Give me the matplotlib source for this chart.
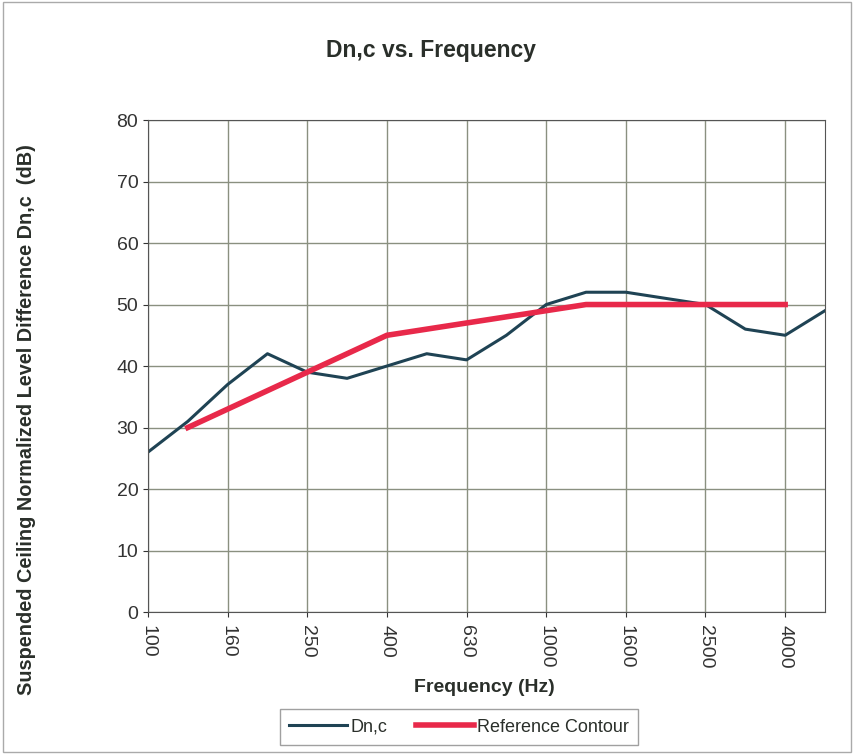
import matplotlib.pyplot as plt

plt.rcParams['font.family'] = ['Liberation Sans', 'DejaVu Sans']

# 1/3 octave bands (Hz)
bands = ['100', '125', '160', '200', '250', '315', '400', '500', '630', '800',
         '1000', '1250', '1600', '2000', '2500', '3150', '4000', '5000']
dnc = [26, 31, 37, 42, 39, 38, 40, 42, 41, 45, 50, 52, 52, 51, 50, 46, 45, 49]
# reference contour from 125 to 4000 Hz
ref_bands = bands[1:17]
ref = [30, 33, 36, 39, 42, 45, 46, 47, 48, 49, 50, 50, 50, 50, 50, 50]

x = list(range(len(bands)))
xr = [bands.index(b) for b in ref_bands]

fig = plt.figure(figsize=(8.54, 7.54), dpi=100)
ax = fig.add_axes([0.1733, 0.1883, 0.7927, 0.6525])

ax.plot(x, dnc, color='#1f4354', linewidth=2.2, label='Dn,c')
ax.plot(xr, ref, color='#e8294a', linewidth=4, label='Reference Contour')

ax.set_xlim(0, len(bands) - 1)
ax.set_ylim(0, 80)
ax.set_yticks(range(0, 81, 10))
ax.set_xticks(x[::2])
ax.set_xticklabels(bands[::2], rotation=270, fontsize=14)
ax.tick_params(axis='y', labelsize=14, colors='#333333')
ax.tick_params(axis='x', pad=6, colors='#333333')
ax.grid(True, color='#8a9080', linewidth=1)
ax.set_axisbelow(True)
for s in ax.spines.values():
    s.set_color('#555555')

# title, axis labels (placed in figure pixels)
fig.text(431 / 854, 1 - 50 / 754, 'Dn,c vs. Frequency', fontsize=16.5,
         fontweight='bold', ha='center', va='center', color='#2a2f2a')
fig.text(484 / 854, 1 - 688 / 754, 'Frequency (Hz)', fontsize=14,
         fontweight='bold', ha='center', va='center', color='#2a2f2a')
fig.text(27 / 854, 1 - 420 / 754,
         'Suspended Ceiling Normalized Level Difference Dn,c  (dB)',
         fontsize=14.3, fontweight='bold', rotation=90, ha='center', va='center',
         color='#2a2f2a')

h, l = ax.get_legend_handles_labels()
leg = fig.legend(h, l, loc='center', bbox_to_anchor=(459 / 854, 1 - 727 / 754), ncol=2,
                 frameon=True, fancybox=False, edgecolor='#888888', fontsize=13,
                 handlelength=3.2, handletextpad=0.2, columnspacing=1.6,
                 borderpad=0.5)
for t in leg.get_texts():
    t.set_color('#2a2f2a')

# light outer border
fig.patches.append(plt.Rectangle((0.003, 0.003), 0.994, 0.994, transform=fig.transFigure,
                                 fill=False, edgecolor='#aaaaaa', linewidth=1))

plt.savefig('out.png', dpi=100)
